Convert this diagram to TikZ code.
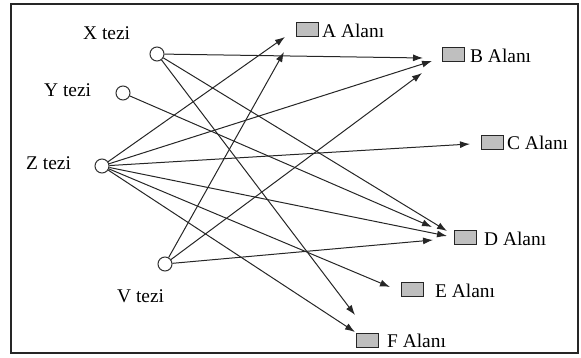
\documentclass[tikz,border=0pt]{standalone}
\usepackage{fontspec}
\setmainfont{Liberation Serif}
\usetikzlibrary{arrows.meta}
\tikzset{
  tez/.style={circle,draw=black!80,line width=1pt,fill=white,minimum size=14pt,inner sep=0pt},
  alan/.style={rectangle,draw=black!85,line width=1pt,fill=black!25,minimum width=22pt,minimum height=14pt,inner sep=0pt},
  lbl/.style={anchor=base west,inner sep=0pt,font=\fontsize{19.4}{22}\selectfont},
  con/.style={draw=black!85,line width=1pt,-{Latex[length=10pt,width=7pt]}}
}
\begin{document}
\begin{tikzpicture}[x=1pt,y=-1pt]
\useasboundingbox (0,0) rectangle (581,358);
\draw[line width=1.3pt,black!85] (11,4) rectangle (578,353);
% tezler
\node[tez] (X) at (157,54) {};
\node[tez] (Y) at (123,93) {};
\node[tez] (Z) at (102,166) {};
\node[tez] (V) at (165,264) {};
\node[lbl] (Xl) at (83,40) {X tezi};
\node[lbl] (Yl) at (44,97) {Y tezi};
\node[lbl] (Zl) at (26,170) {Z tezi};
\node[lbl] (Vl) at (117,302) {V tezi};
% alanlar
\node[alan] (A) at (307,30) {};
\node[alan] (B) at (453,55) {};
\node[alan] (C) at (492,142.5) {};
\node[alan] (D) at (465,238) {};
\node[alan] (E) at (412.5,289.5) {};
\node[alan] (F) at (367,340.5) {};
\node[lbl] (Al) at (322,37.5) {A Alanı};
\node[lbl] (Bl) at (470,62.5) {B Alanı};
\node[lbl] (Cl) at (507,150) {C Alanı};
\node[lbl] (Dl) at (484,245.5) {D Alanı};
\node[lbl] (El) at (435,297) {E Alanı};
\node[lbl] (Fl) at (387,347) {F Alanı};
% arrow tips
\coordinate (tZA) at (285,37);
\coordinate (tVA) at (284,52);
\coordinate (tXB) at (423,58);
\coordinate (tZB) at (432,61);
\coordinate (tVB) at (422,73);
\coordinate (tZC) at (470,144);
\coordinate (tYD) at (432,227);
\coordinate (tXD) at (447,231);
\coordinate (tZD) at (447,236);
\coordinate (tVD) at (433,240);
\coordinate (tZE) at (390,287);
\coordinate (tXF) at (355,315);
\coordinate (tZF) at (355,332);
% connectors
\draw[con] (X) -- (tXB);
\draw[con] (X) -- (tXD);
\draw[con] (X) -- (tXF);
\draw[con] (Y) -- (tYD);
\draw[con] (Z) -- (tZA);
\draw[con] (Z) -- (tZB);
\draw[con] (Z) -- (tZC);
\draw[con] (Z) -- (tZD);
\draw[con] (Z) -- (tZE);
\draw[con] (Z) -- (tZF);
\draw[con] (V) -- (tVA);
\draw[con] (V) -- (tVB);
\draw[con] (V) -- (tVD);
\end{tikzpicture}
\end{document}
